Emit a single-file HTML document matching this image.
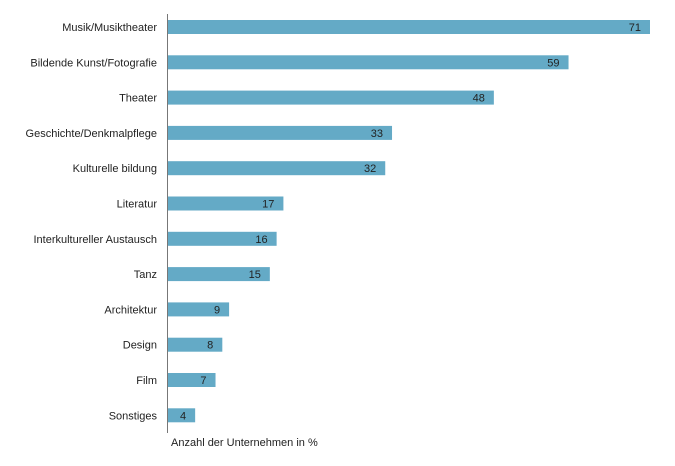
<!DOCTYPE html>
<html><head><meta charset="utf-8"><style>
body{margin:0;background:#fff;}
svg text{font-family:"Liberation Sans",sans-serif;font-size:11px;fill:#222;}
</style></head><body>
<svg width="675" height="461">
<g id="g"></g>
<line x1="167.5" y1="14" x2="167.5" y2="433" stroke="#777" stroke-width="1"/>
<text x="171" y="446">Anzahl der Unternehmen in %</text>
</svg>
<script>
const categories=["Musik/Musiktheater","Bildende Kunst/Fotografie","Theater","Geschichte/Denkmalpflege","Kulturelle bildung","Literatur","Interkultureller Austausch","Tanz","Architektur","Design","Film","Sonstiges"];
const values=[71,59,48,33,32,17,16,15,9,8,7,4];
const x0=168, pxPer=482/71, y0=27, step=35.3, bh=14;
const xs=v=>x0+v*pxPer, ys=i=>y0+i*step;
const g=document.getElementById('g');
const ns="http://www.w3.org/2000/svg";
categories.forEach((c,i)=>{
  const cy=ys(i);
  const r=document.createElementNS(ns,'rect');
  r.setAttribute('x',x0);r.setAttribute('y',cy-bh/2);
  r.setAttribute('width',xs(values[i])-x0);r.setAttribute('height',bh);
  r.setAttribute('fill','#64aac6');
  
  
  g.appendChild(r);
  const l=document.createElementNS(ns,'text');
  l.setAttribute('x',157);l.setAttribute('y',cy+4);l.setAttribute('text-anchor','end');
  l.textContent=c;
  
  
  g.appendChild(l);
  const v=document.createElementNS(ns,'text');
  v.setAttribute('x',xs(values[i])-9);v.setAttribute('y',cy+4);v.setAttribute('text-anchor','end');
  v.textContent=values[i];
  
  
  g.appendChild(v);
});
</script>
</body></html>
